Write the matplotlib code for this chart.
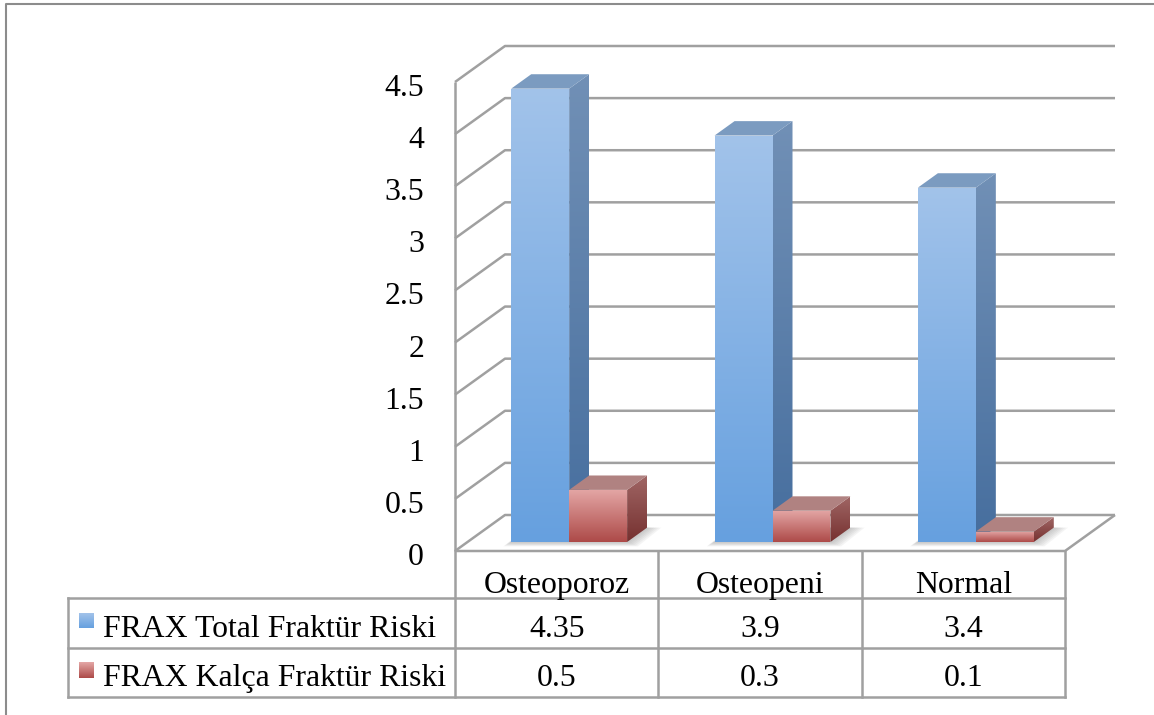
import numpy as np
import matplotlib
matplotlib.use("Agg")
import matplotlib.pyplot as plt
from matplotlib.patches import Polygon
from matplotlib.colors import to_rgb
from matplotlib.transforms import Affine2D, ScaledTranslation, blended_transform_factory

# ---- data ----
categories = ["Osteoporoz", "Osteopeni", "Normal"]
series_names = ["FRAX Total Fraktür Riski", "FRAX Kalça Fraktür Riski"]
total_risk = [4.35, 3.9, 3.4]
hip_risk = [0.5, 0.3, 0.1]
y_ticks = [0, 0.5, 1, 1.5, 2, 2.5, 3, 3.5, 4, 4.5]
y_tick_labels = ["0", "0.5", "1", "1.5", "2", "2.5", "3", "3.5", "4", "4.5"]

# ---- styles ----
W, H, DPI = 1154, 715, 100
FONT = "Liberation Serif"
FS = 22.9
GRID = "#a0a0a0"
# face colours: (front top, front bottom, side top, side bottom, top face)
series_style = [
    ("#a2c3ea", "#66a0df", "#7190b6", "#466e9e", "#7b9bc0"),
    ("#e4a7a6", "#ad4a48", "#a06665", "#763130", "#b08281"),
]

fig = plt.figure(figsize=(W / DPI, H / DPI), dpi=DPI)
ax = fig.add_axes([0, 0, 1, 1])
ax.axis("off")

# front plane: category units across, value units up
ORIGIN_X, ORIGIN_Y = 455, 164      # pixel position of (0, 0) on the front plane
SX, SY = 610 / 3, 469 / 4.5        # pixels per category / per value unit
XMIN, XMAX = -ORIGIN_X / SX, (W - ORIGIN_X) / SX
YMIN, YMAX = -ORIGIN_Y / SY, (H - ORIGIN_Y) / SY
ax.set_xlim(XMIN, XMAX)
ax.set_ylim(YMIN, YMAX)

# oblique depth direction (full floor depth) in data units
DX, DV = 50 / SX, 36 / SY


def p(x, v, d):
    return (x + d * DX, v + d * DV)


ncat = len(categories)
vmax = y_ticks[-1]

# ---- walls and floor ----
line_kw = dict(color=GRID, lw=1.8, solid_capstyle="butt", zorder=1)
for v in y_ticks:
    a, b, c = p(0, v, 0), p(0, v, 1), p(ncat, v, 1)
    ax.plot([a[0], b[0], c[0]], [a[1], b[1], c[1]], **line_kw)
a, b = p(0, 0, 0), p(0, vmax, 0)
ax.plot([a[0], b[0]], [a[1], b[1]], **line_kw)
a, b, c = p(0, 0, 0), p(ncat, 0, 0), p(ncat, 0, 1)
ax.plot([a[0], b[0], c[0]], [a[1], b[1], c[1]], **line_kw)


def grad_fill(verts, top, bottom, z):
    poly = Polygon(verts, closed=True, facecolor="none", edgecolor="none",
                   transform=ax.transData)
    ax.add_patch(poly)
    xs = [q[0] for q in verts]
    ys = [q[1] for q in verts]
    t = np.linspace(0, 1, 256)[:, None]
    c0, c1 = np.array(to_rgb(top)), np.array(to_rgb(bottom))
    img = (c0 * (1 - t) + c1 * t)[:, None, :]
    im = ax.imshow(img, extent=(min(xs), max(xs), min(ys), max(ys)),
                   origin="upper", aspect="auto", interpolation="bilinear",
                   zorder=z)
    im.set_clip_path(poly)


# ---- bars ----
BAR_W = 0.285          # bar width in category units
D0, D1 = 0.25, 0.65    # bar front / back depth
values = [total_risk, hip_risk]
for i in range(ncat):
    group_left = i + 0.5 - BAR_W
    # soft floor shadow under the group
    for grow in np.linspace(0.07, 0.0, 7):
        xl, xr = group_left - grow * 0.3, group_left + 2 * BAR_W + grow
        sh = [p(xl, -grow * 0.25, D0 - grow), p(xr, -grow * 0.25, D0 - grow),
              p(xr, 0, D1), p(xl, 0, D1)]
        ax.add_patch(Polygon(sh, closed=True, facecolor="#707070",
                             edgecolor="none", alpha=0.07, zorder=2))
    for j, vals in enumerate(values):
        h = vals[i]
        xl = group_left + j * BAR_W
        xr = xl + BAR_W
        ft, fb, st, sb, tc = series_style[j]
        z = 3 + j
        front = [p(xl, 0, D0), p(xr, 0, D0), p(xr, h, D0), p(xl, h, D0)]
        side = [p(xr, 0, D0), p(xr, 0, D1), p(xr, h, D1), p(xr, h, D0)]
        top = [p(xl, h, D0), p(xr, h, D0), p(xr, h, D1), p(xl, h, D1)]
        grad_fill(side, st, sb, z)
        ax.add_patch(Polygon(top, closed=True, facecolor=tc, edgecolor="none",
                             zorder=z))
        grad_fill(front, ft, fb, z)

# ---- value axis labels ----
lab_tr = ax.transData + ScaledTranslation(-31 / DPI, -6.5 / DPI, fig.dpi_scale_trans)
for v, s in zip(y_ticks, y_tick_labels):
    ax.text(0, v, s, transform=lab_tr, ha="right", va="center",
            fontsize=FS, family=FONT, color="black")

# ---- data table ----
px = Affine2D().scale(1, -1).translate(0, H)          # pixels from top-left
colx = blended_transform_factory(ax.transData, px)      # x: categories, y: pixels
y_floor = H - ax.transData.transform((0, 0))[1]
row_y = [y_floor, 598, 648, 697]
legend_left = 68
x_right_px = ax.transData.transform((ncat, 0))[0]

tkw = dict(color=GRID, lw=1.8, solid_capstyle="projecting", zorder=1)
for k in range(ncat + 1):
    ax.plot([k, k], [row_y[0], row_y[3]], transform=colx, **tkw)
ax.plot([legend_left, legend_left], [row_y[1], row_y[3]], transform=px, **tkw)
for y in row_y[1:]:
    ax.plot([legend_left, x_right_px], [y, y], transform=px, **tkw)

for k, c in enumerate(categories):
    ax.text(k + 0.5, 593, c, transform=colx, ha="center", va="baseline",
            fontsize=FS, family=FONT)

key_half = 7.5
inv = ax.transData.inverted()
for r, (name, vals) in enumerate(zip(series_names, values)):
    y_top, y_bot = row_y[r + 1], row_y[r + 2]
    yc = (y_top + y_bot) / 2
    base = y_bot - 11
    for k, v in enumerate(vals):
        ax.text(k + 0.5, base, f"{v:g}", transform=colx, ha="center",
                va="baseline", fontsize=FS, family=FONT)
    ax.text(103, base, name, transform=px, ha="left", va="baseline",
            fontsize=FS, family=FONT)
    # legend key with the series gradient
    kx0, kx1 = 79, 79 + 2 * key_half
    ky0, ky1 = yc - key_half - 2, yc + key_half - 2
    t = np.linspace(0, 1, 64)[:, None]
    c0, c1 = np.array(to_rgb(series_style[r][0])), np.array(to_rgb(series_style[r][1]))
    img = (c0 * (1 - t) + c1 * t)[:, None, :]
    (dx0, dy0) = inv.transform((kx0, H - ky1))
    (dx1, dy1) = inv.transform((kx1, H - ky0))
    ax.imshow(img, extent=(dx0, dx1, dy0, dy1), origin="upper", aspect="auto",
              interpolation="bilinear", zorder=5)

# chart area frame
ax.plot([6, 6, W + 10], [H + 10, 4, 4], transform=px, color="#8c8c8c", lw=1.5,
        zorder=1)

ax.set_xlim(XMIN, XMAX)
ax.set_ylim(YMIN, YMAX)
fig.savefig("out.png", dpi=DPI, facecolor="white")
